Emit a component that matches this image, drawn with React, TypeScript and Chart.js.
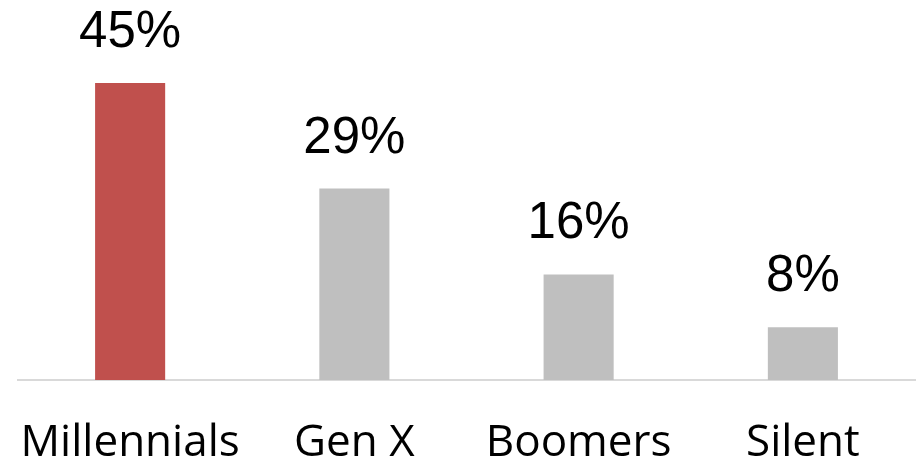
import React, { useEffect, useRef } from "react";
import { Chart, registerables } from "chart.js";

Chart.register(...registerables);

const categories = ["Millennials", "Gen X", "Boomers", "Silent"];
const shares = [45, 29, 16, 8];
const barColors = ["#c0504d", "#bfbfbf", "#bfbfbf", "#bfbfbf"];

const valueLabels = {
  id: "valueLabels",
  afterDatasetsDraw(chart: any) {
    const ctx = chart.ctx;
    const meta = chart.getDatasetMeta(0);
    ctx.save();
    ctx.font = "51px 'Liberation Sans', Arial, sans-serif";
    ctx.fillStyle = "#000000";
    ctx.textAlign = "center";
    ctx.textBaseline = "alphabetic";
    meta.data.forEach((bar: any, i: number) => {
      ctx.fillText(shares[i] + "%", bar.x, bar.y - 36);
    });
    ctx.restore();
  },
};

export default function App() {
  const ref = useRef<HTMLCanvasElement | null>(null);
  useEffect(() => {
    document.body.style.margin = "0";
    const chart = new Chart(ref.current!, {
      type: "bar",
      data: {
        labels: categories,
        datasets: [
          {
            data: shares,
            backgroundColor: barColors,
            categoryPercentage: 1,
            barPercentage: 0.3125,
          },
        ],
      },
      options: {
        animation: false,
        responsive: false,
        layout: { padding: { top: 50, left: 18, right: 6, bottom: 0 } },
        plugins: { legend: { display: false }, tooltip: { enabled: false } },
        scales: {
          y: { display: false, min: 0, max: 50 },
          x: {
            grid: { display: false, drawTicks: false },
            border: { display: true, color: "#d9d9d9", width: 2 },
            ticks: {
              color: "#000000",
              font: { family: "'Open Sans', sans-serif", size: 44 },
              padding: 37,
              maxRotation: 0,
              autoSkip: false,
            },
            afterFit(scale: any) {
              scale.height = 84;
              scale.paddingLeft = 0;
              scale.paddingRight = 0;
            },
          },
        },
      },
      plugins: [valueLabels],
    });
    return () => chart.destroy();
  }, []);
  return <canvas ref={ref} width={921} height={464} />;
}
